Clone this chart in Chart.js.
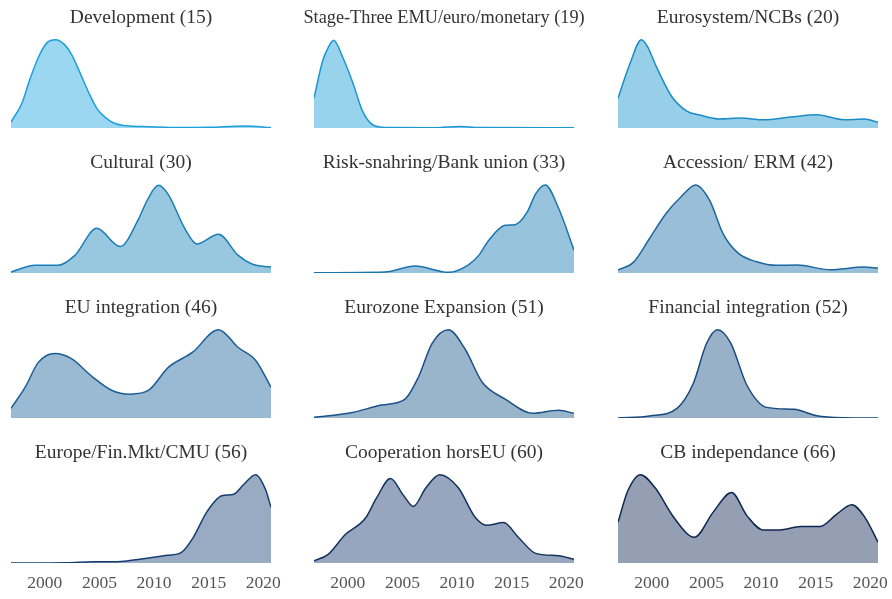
<!DOCTYPE html>
<html>
<head>
<meta charset="utf-8">
<script src="https://cdn.jsdelivr.net/npm/chart.js@4.4.1/dist/chart.umd.min.js"></script>
<style>
  html, body { margin: 0; padding: 0; background: #fff; overflow: hidden; }
  #wrap { position: relative; width: 892px; height: 599px; }
  #wrap canvas { position: absolute; }
</style>
</head>
<body>
<div id="wrap"></div>
<script>
// densité par année (hauteur relative, pic ~89)
const DEVELOPMENT = [[1996.9, 6], [1997.9, 25], [1998.6, 48], [1999.4, 71], [2000.2, 86], [2001.0, 89], [2001.8, 84], [2002.4, 75], [2003.2, 56], [2004.0, 36], [2004.8, 19], [2005.5, 11], [2006.3, 5], [2007.2, 2.5], [2009, 1.5], [2012, 0.6], [2015, 0.8], [2018.3, 2], [2020.7, 0.4]];
const STAGE_THREE = [[1996.9, 30], [1997.7, 68], [1998.2, 81], [1998.7, 88.4], [1999.5, 72], [2000.5, 44], [2001.3, 18], [2002.3, 3], [2003.5, 0.5], [2008, 0.3], [2010.3, 1.6], [2012, 0.4], [2020.7, 0.2]];
const EUROSYSTEM = [[1996.9, 30], [1998.0, 65], [1999.05, 89], [1999.6, 82], [2000.4, 62], [2001.8, 32], [2003.2, 17], [2004.4, 13], [2006.2, 9], [2008.1, 10], [2010.2, 8.3], [2012.7, 11], [2015.1, 13.3], [2017.6, 8.3], [2019.4, 9], [2020.7, 5.7]];
const CULTURAL = [[1996.9, 1], [1999.1, 7.7], [2001.2, 7.7], [2002.75, 17.7], [2004.74, 45], [2006.9, 26.7], [2008.56, 54], [2009.4, 74], [2010.4, 88.3], [2011.3, 79], [2012.8, 45], [2013.9, 29.3], [2015.9, 39], [2017.7, 17.7], [2018.96, 9], [2020.7, 6]];
const RISK_SHARING = [[1996.9, 0.3], [2003.4, 1], [2006.15, 7], [2009.2, 0.7], [2011.0, 8], [2012.0, 18], [2012.9, 33], [2014.4, 48], [2015.3, 48.7], [2016.4, 61], [2017.2, 80], [2018.07, 88.7], [2019.3, 65], [2020.7, 23]];
const ACCESSION = [[1996.9, 3], [1998.3, 10.7], [1999.8, 35], [2001.3, 60], [2002.7, 77], [2004.0, 88.7], [2005.3, 73], [2006.5, 40], [2007.9, 20], [2009.6, 11.3], [2011.4, 7.7], [2013.3, 8], [2016.3, 3.3], [2019.4, 6], [2020.7, 5]];
const EU_INTEGRATION = [[1996.9, 9.7], [1998.2, 31], [1999.4, 56], [2000.9, 65], [2002.4, 60], [2004.3, 42], [2006.1, 28], [2007.8, 24], [2009.5, 28], [2011.3, 51], [2013.5, 66], [2015.9, 89], [2017.7, 71], [2019.3, 58], [2020.7, 31]];
const EUROZONE = [[1996.9, 0.7], [2000.3, 5.3], [2003.1, 13], [2005.2, 18.7], [2006.45, 41], [2007.7, 75], [2009.2, 89], [2010.7, 70], [2012.3, 36], [2014.4, 19], [2016.9, 4.7], [2019.3, 7.7], [2020.7, 4.7]];
const FINANCIAL = [[1996.9, 0], [1999.8, 2], [2002.3, 9.7], [2003.8, 35], [2005.0, 75], [2006.0, 89], [2007.2, 76], [2008.7, 33], [2010.5, 10.7], [2013.0, 8.7], [2015.1, 2.3], [2017.6, 0.3], [2020.7, 0]];
const EUROPE_CMU = [[1996.9, 0], [2002.0, 0.3], [2004.4, 1.3], [2006.6, 1.3], [2009.0, 4.3], [2011.2, 7.7], [2012.5, 10.7], [2013.6, 26], [2014.8, 51], [2016.2, 67.7], [2017.3, 69.3], [2018.2, 79], [2019.3, 89], [2020.2, 74], [2020.7, 56]];
const COOPERATION = [[1996.9, 2.3], [1998.2, 8.7], [1999.7, 28], [2001.6, 45], [2002.6, 65], [2003.9, 85], [2005.1, 68], [2006.0, 57], [2007.1, 75], [2008.4, 89], [2010.1, 76], [2011.65, 46], [2012.7, 38], [2014.25, 40.7], [2015.6, 26], [2017.2, 9.7], [2019.3, 7.3], [2020.7, 3.7]];
const CB_INDEPENDANCE = [[1996.9, 41], [1997.8, 72.7], [1998.96, 89], [2000.3, 75.7], [2002.0, 46], [2003.9, 26], [2005.6, 51], [2007.3, 71], [2008.7, 47.7], [2010.2, 33.3], [2011.7, 33.3], [2013.6, 36.7], [2015.4, 36.7], [2016.9, 49], [2018.3, 58.7], [2019.5, 46], [2020.7, 21]];

const TITLES = [
  "Development (15)", "Stage-Three EMU/euro/monetary (19)", "Eurosystem/NCBs (20)",
  "Cultural (30)", "Risk-snahring/Bank union (33)", "Accession/ ERM (42)",
  "EU integration (46)", "Eurozone Expansion (51)", "Financial integration (52)",
  "Europe/Fin.Mkt/CMU (56)", "Cooperation horsEU (60)", "CB independance (66)",
];
const SERIES = [
  DEVELOPMENT, STAGE_THREE, EUROSYSTEM,
  CULTURAL, RISK_SHARING, ACCESSION,
  EU_INTEGRATION, EUROZONE, FINANCIAL,
  EUROPE_CMU, COOPERATION, CB_INDEPENDANCE,
];
const TICK_YEARS = [2000, 2005, 2010, 2015, 2020];
const X_MIN = 1996.9, X_MAX = 2020.7, Y_MAX = 99;

const LINE_COLORS = ["#1d9fdb", "#1b97d3", "#1b8cc7", "#1a7db8", "#1a74ae", "#1b67a0",
                     "#1b5d95", "#1b5189", "#184a7f", "#143e72", "#12325f", "#0d2751"];
const FILL_COLORS = ["#9bd7f1", "#98d3ee", "#97cfe8", "#98c8e0", "#98c3dc", "#99bfd8",
                     "#99bad2", "#99b5cc", "#99b1c8", "#98abc2", "#97a6be", "#949fb4"];

const COL_LEFT = [11, 314, 618];
const PAD = 24;
const SERIF = "'Liberation Serif', serif";
const wrap = document.getElementById("wrap");

// axe vertical invisible qui sert juste de marge (le titre garde toute la largeur)
const spacer = (position) => ({
  type: "linear", position, min: 0, max: Y_MAX,
  ticks: { display: false }, grid: { display: false }, border: { display: false },
  afterFit: (s) => { s.width = PAD; },
});

SERIES.forEach((data, i) => {
  const row = Math.floor(i / 3), col = i % 3;
  const bottom = row === 3;
  const small = i === 1;
  const canvas = document.createElement("canvas");
  canvas.width = 260 + 2 * PAD;
  canvas.height = bottom ? 158 : 128;
  canvas.style.left = (COL_LEFT[col] - PAD) + "px";
  canvas.style.top = (row * 145) + "px";
  wrap.appendChild(canvas);

  new Chart(canvas.getContext("2d"), {
    type: "line",
    data: {
      datasets: [{
        data: data.map(([x, y]) => ({ x, y })),
        borderColor: LINE_COLORS[i],
        backgroundColor: FILL_COLORS[i],
        borderWidth: 1.5,
        fill: "origin",
        pointRadius: 0,
        cubicInterpolationMode: "monotone",
      }],
    },
    options: {
      responsive: false,
      animation: false,
      devicePixelRatio: 1,
      layout: { padding: 0 },
      plugins: {
        legend: { display: false },
        tooltip: { enabled: false },
        title: {
          display: true,
          text: TITLES[i],
          color: "#333",
          font: { family: SERIF, size: small ? 18.3 : 19.5, weight: "normal" },
          padding: { top: small ? 7 : 6.3, bottom: small ? 0.7 : 0 },
        },
      },
      scales: {
        x: {
          type: "linear",
          min: X_MIN,
          max: X_MAX,
          display: bottom,
          grid: { display: false, drawTicks: false },
          border: { display: false },
          afterBuildTicks: (s) => { s.ticks = TICK_YEARS.map((v) => ({ value: v })); },
          afterFit: (s) => { if (bottom) s.height = 30; },
          ticks: {
            color: "#555",
            padding: 10,
            maxRotation: 0,
            font: { family: SERIF, size: 17.5 },
            callback: (v) => String(v),
          },
        },
        y: spacer("left"),
        yRight: spacer("right"),
      },
    },
  });
});
</script>
</body>
</html>
